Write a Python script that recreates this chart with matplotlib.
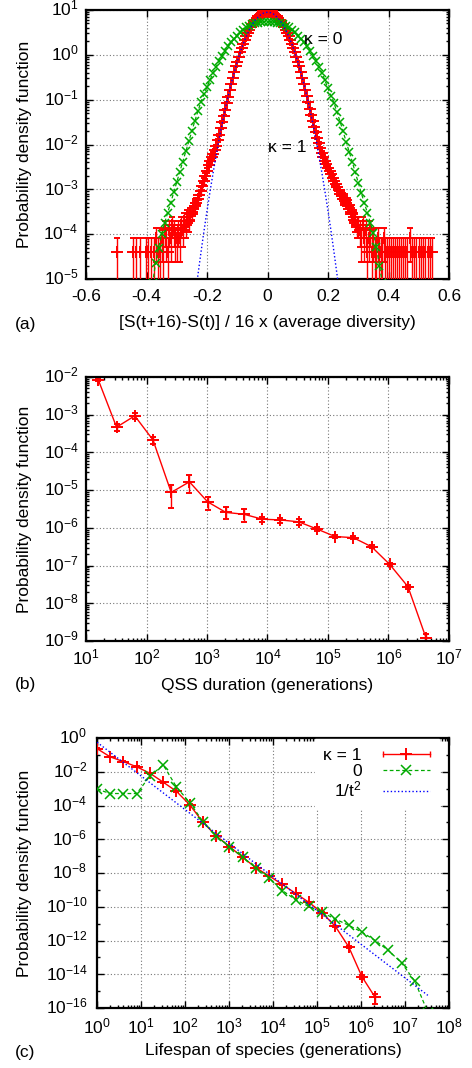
import numpy as np
import matplotlib
matplotlib.use('Agg')
import matplotlib.pyplot as plt
from matplotlib.ticker import LogLocator, FixedLocator, NullFormatter, FuncFormatter
from matplotlib.lines import Line2D
from matplotlib.legend_handler import HandlerLine2D, HandlerTuple
from matplotlib.transforms import ScaledTranslation

plt.rcParams['font.family'] = ['Liberation Sans', 'DejaVu Sans']
plt.rcParams['mathtext.default'] = 'regular'
plt.rcParams['font.size'] = 12.5

RED = '#ff0000'
GREEN = '#00aa00'
BLUE = '#0000ff'

# ---------------- Panel (a) data ----------------
# green, kappa = 0 (x, log10 pdf)
green_a_x = [-0.38, -0.37, -0.36, -0.35, -0.34, -0.33, -0.32, -0.31, -0.30, -0.29,
             -0.28, -0.27, -0.26, -0.25, -0.24, -0.23, -0.22, -0.21, -0.20, -0.19,
             -0.18, -0.17, -0.16, -0.15, -0.14, -0.13, -0.12, -0.11, -0.10, -0.09,
             -0.08, -0.07, -0.06, -0.05, -0.04, -0.03, -0.02, -0.01, 0.00, 0.01,
             0.02, 0.03, 0.04, 0.05, 0.06, 0.07, 0.08, 0.09, 0.10, 0.11,
             0.12, 0.13, 0.14, 0.15, 0.16, 0.17, 0.18, 0.19, 0.20, 0.21,
             0.22, 0.23, 0.24, 0.25, 0.26, 0.27, 0.28, 0.29, 0.30, 0.31,
             0.32, 0.33, 0.34, 0.35, 0.36, 0.37, 0.38]
green_a_logy = [-5.10, -4.65, -4.30, -4.00, -3.75, -3.52, -3.30, -3.07, -2.84, -2.61,
                -2.38, -2.15, -1.93, -1.70, -1.47, -1.26, -1.05, -0.88, -0.72, -0.56,
                -0.41, -0.27, -0.14, -0.02, 0.09, 0.19, 0.28, 0.36, 0.43, 0.50,
                0.56, 0.61, 0.65, 0.68, 0.70, 0.72, 0.73, 0.74, 0.74, 0.74,
                0.73, 0.72, 0.70, 0.68, 0.65, 0.61, 0.56, 0.50, 0.43, 0.36,
                0.28, 0.19, 0.09, -0.02, -0.14, -0.27, -0.41, -0.57, -0.75, -0.92,
                -1.08, -1.28, -1.49, -1.71, -1.94, -2.16, -2.38, -2.62, -2.85, -3.08,
                -3.30, -3.52, -3.75, -3.98, -4.28, -4.70, -5.10]

# blue dotted Gaussian fit (x, log10 pdf)
blue_a_x = [-0.24, -0.23, -0.22, -0.21, -0.20, -0.19, -0.18, -0.17, -0.16, -0.15,
            -0.14, -0.13, -0.12, -0.11, -0.10, -0.09, -0.08, -0.07, -0.06, -0.05,
            -0.04, -0.03, -0.02, -0.01, 0.00, 0.01, 0.02, 0.03, 0.04, 0.05,
            0.06, 0.07, 0.08, 0.09, 0.10, 0.11, 0.12, 0.13, 0.14, 0.15,
            0.16, 0.17, 0.18, 0.19, 0.20, 0.21, 0.22, 0.23, 0.24]
blue_a_logy = [-5.43, -4.91, -4.41, -3.93, -3.48, -3.05, -2.64, -2.25, -1.88, -1.54,
               -1.22, -0.92, -0.64, -0.39, -0.15, 0.06, 0.25, 0.41, 0.56, 0.68,
               0.78, 0.85, 0.91, 0.94, 0.95, 0.94, 0.91, 0.85, 0.78, 0.68,
               0.56, 0.41, 0.25, 0.06, -0.15, -0.39, -0.64, -0.92, -1.22, -1.54,
               -1.88, -2.25, -2.64, -3.05, -3.48, -3.93, -4.41, -4.91, -5.43]

# red, kappa = 1 : x, log10 pdf, relative error
red_a_x = [-0.498, -0.444, -0.434, -0.421, -0.402, -0.394, -0.386, -0.375, -0.368, -0.362,
           -0.356, -0.350, -0.345, -0.340, -0.335, -0.330, -0.325, -0.320, -0.315, -0.310,
           -0.305,
           -0.300, -0.295, -0.290, -0.285, -0.280, -0.275, -0.270, -0.265, -0.260, -0.255,
           -0.250, -0.245, -0.240, -0.235, -0.230, -0.225, -0.220, -0.215, -0.210, -0.205,
           -0.200, -0.195, -0.190, -0.185, -0.180, -0.175, -0.170, -0.165, -0.160, -0.155,
           -0.150, -0.145, -0.140, -0.135, -0.130, -0.125, -0.120, -0.115, -0.110, -0.105,
           -0.100, -0.095, -0.090, -0.085, -0.080, -0.075, -0.070, -0.065, -0.060, -0.055,
           -0.050, -0.045, -0.040, -0.035, -0.030, -0.025, -0.020, -0.015, -0.010, -0.005,
           0.000,
           0.005, 0.010, 0.015, 0.020, 0.025, 0.030, 0.035, 0.040, 0.045, 0.050,
           0.055, 0.060, 0.065, 0.070, 0.075, 0.080, 0.085, 0.090, 0.095, 0.100,
           0.105, 0.110, 0.115, 0.120, 0.125, 0.130, 0.135, 0.140, 0.145, 0.150,
           0.155, 0.160, 0.165, 0.170, 0.175, 0.180, 0.185, 0.190, 0.195, 0.200,
           0.205, 0.210, 0.215, 0.220, 0.225, 0.230, 0.235, 0.240, 0.245, 0.250,
           0.255, 0.260, 0.265, 0.270, 0.275, 0.280, 0.285, 0.290, 0.295, 0.300,
           0.305, 0.310, 0.315, 0.320, 0.325, 0.330, 0.335, 0.340, 0.345, 0.350,
           0.355, 0.360, 0.365, 0.370, 0.375, 0.380, 0.385, 0.390, 0.395, 0.400,
           0.408, 0.415, 0.420, 0.428, 0.435, 0.440, 0.448, 0.455, 0.462, 0.471,
           0.478, 0.485, 0.492, 0.500, 0.508, 0.515, 0.522, 0.530, 0.537, 0.545]
red_a_logy = [-4.39, -4.39, -4.39, -4.39, -4.39, -4.39, -4.39, -4.39, -4.09, -4.39,
              -4.39, -4.09, -4.39, -3.91, -4.09, -4.39, -3.91, -4.09, -3.79, -3.91,
              -4.09,
              -4.09, -3.91, -4.09, -3.79, -3.91, -3.70, -3.79, -3.62, -3.70, -3.55,
              -3.50, -3.42, -3.38, -3.30, -3.22, -3.12, -3.03, -2.93, -2.82, -2.70,
              -2.58, -2.46, -2.36, -2.28, -2.21, -2.12, -2.03, -1.91, -1.78, -1.64,
              -1.50, -1.36, -1.22, -1.07, -0.93, -0.78, -0.64, -0.51, -0.38, -0.26,
              -0.15, -0.04, 0.07, 0.16, 0.25, 0.34, 0.42, 0.49, 0.56, 0.62,
              0.68, 0.73, 0.78, 0.82, 0.86, 0.89, 0.91, 0.93, 0.94, 0.95,
              0.95,
              0.95, 0.94, 0.93, 0.91, 0.89, 0.86, 0.82, 0.78, 0.73, 0.68,
              0.62, 0.56, 0.49, 0.42, 0.34, 0.25, 0.16, 0.07, -0.04, -0.15,
              -0.26, -0.38, -0.51, -0.64, -0.78, -0.92, -1.06, -1.20, -1.34, -1.47,
              -1.60, -1.73, -1.85, -1.97, -2.08, -2.18, -2.27, -2.36, -2.44, -2.52,
              -2.58, -2.66, -2.74, -2.82, -2.88, -2.95, -3.02, -3.10, -3.15, -3.22,
              -3.20, -3.30, -3.38, -3.36, -3.50, -3.55, -3.62, -3.70, -3.79, -3.79,
              -3.91, -4.09, -3.79, -4.09, -3.91, -4.39, -4.09, -3.91, -4.39, -4.09,
              -4.39, -4.39, -4.09, -4.39, -4.39, -4.39, -4.09, -4.39, -4.39, -4.39,
              -4.39, -4.39, -4.39, -4.39, -4.39, -4.39, -4.39, -4.39, -4.39, -4.09,
              -4.39, -4.39, -4.39, -4.39, -4.39, -4.39, -4.39, -4.39, -4.39, -4.39]
red_a_relerr = [1.0, 1.0, 1.0, 1.0, 1.0, 1.0, 1.0, 1.0, 0.71, 1.0,
                1.0, 0.71, 1.0, 0.58, 0.71, 1.0, 0.58, 0.71, 0.50, 0.58,
                0.71,
                0.71, 0.58, 0.71, 0.50, 0.58, 0.45, 0.50, 0.41, 0.45, 0.38,
                0.35, 0.32, 0.31, 0.28, 0.26, 0.23, 0.21, 0.19, 0.16, 0.14,
                0.12, 0.11, 0.10, 0.09, 0.08, 0.07, 0.07, 0.06, 0.05, 0.04,
                0.04, 0.03, 0.03, 0.02, 0.02, 0.0, 0.0, 0.0, 0.0, 0.0,
                0.0, 0.0, 0.0, 0.0, 0.0, 0.0, 0.0, 0.0, 0.0, 0.0,
                0.0, 0.0, 0.0, 0.0, 0.0, 0.0, 0.0, 0.0, 0.0, 0.0,
                0.0,
                0.0, 0.0, 0.0, 0.0, 0.0, 0.0, 0.0, 0.0, 0.0, 0.0,
                0.0, 0.0, 0.0, 0.0, 0.0, 0.0, 0.0, 0.0, 0.0, 0.0,
                0.0, 0.0, 0.0, 0.0, 0.0, 0.02, 0.02, 0.03, 0.03, 0.04,
                0.04, 0.05, 0.05, 0.06, 0.07, 0.08, 0.09, 0.10, 0.11, 0.12,
                0.12, 0.14, 0.15, 0.16, 0.18, 0.19, 0.21, 0.23, 0.24, 0.26,
                0.26, 0.29, 0.31, 0.31, 0.36, 0.38, 0.41, 0.45, 0.50, 0.50,
                0.58, 0.71, 0.50, 0.71, 0.58, 1.0, 0.71, 0.58, 1.0, 0.71,
                1.0, 1.0, 0.71, 1.0, 1.0, 1.0, 0.71, 1.0, 1.0, 1.0,
                1.0, 1.0, 1.0, 1.0, 1.0, 1.0, 1.0, 1.0, 1.0, 0.71,
                1.0, 1.0, 1.0, 1.0, 1.0, 1.0, 1.0, 1.0, 1.0, 1.0]

a_xticks = [-0.6, -0.4, -0.2, 0.0, 0.2, 0.4, 0.6]
a_xticklabels = ['-0.6', '-0.4', '-0.2', '0', '0.2', '0.4', '0.6']

# ---------------- Panel (b) data ----------------
qss_x = [16, 32, 64, 128, 256, 512, 1024, 2048, 4096, 8192, 16384, 32768,
         65536, 131072, 262144, 524288, 1048576, 2097152, 4194304]
qss_logy = [-2.08, -3.33, -3.03, -3.67, -5.06, -4.78, -5.31, -5.59, -5.64, -5.77,
            -5.79, -5.84, -6.03, -6.23, -6.26, -6.50, -6.97, -7.56, -8.93]
qss_relerr = [0.05, 0.20, 0.18, 0.20, 0.62, 0.50, 0.38, 0.35, 0.38, 0.15,
              0.15, 0.17, 0.12, 0.10, 0.10, 0.10, 0.10, 0.12, 0.30]

# ---------------- Panel (c) data ----------------
life_red_x = [1, 2, 4, 8, 16, 32, 64, 128, 256, 512, 1024, 2048, 4096, 8192,
              16384, 32768, 65536, 131072, 262144, 524288, 1048576, 2097152]
life_red_logy = [-0.63, -1.12, -1.40, -1.71, -2.09, -2.62, -3.16, -3.96, -4.99, -5.80,
                 -6.43, -7.07, -7.69, -8.18, -8.68, -9.21, -9.74, -10.36, -11.17, -12.37,
                 -14.14, -15.37]
life_red_relerr = [0.05, 0.05, 0.05, 0.05, 0.05, 0.05, 0.05, 0.05, 0.05, 0.05,
                   0.05, 0.05, 0.05, 0.05, 0.05, 0.05, 0.06, 0.08, 0.10, 0.15,
                   0.30, 0.60]
life_green_x = [1, 2, 4, 8, 16, 32, 64, 128, 256, 512, 1024, 2048, 4096, 8192,
                16384, 32768, 65536, 131072, 262144, 524288, 1048576, 2097152,
                4194304, 8388608, 16777216, 33554432]
life_green_logy = [-3.03, -3.29, -3.29, -3.29, -2.25, -1.60, -2.90, -3.83, -4.95, -5.80,
                   -6.45, -7.07, -7.68, -8.30, -9.04, -9.59, -9.98, -10.34, -10.73, -11.10,
                   -11.50, -12.00, -12.59, -13.33, -14.42, -16.30]
fit_x = [1, 3.3e7]
fit_logy = [-0.25, -15.25]

c_yticks = [1e0, 1e-2, 1e-4, 1e-6, 1e-8, 1e-10, 1e-12, 1e-14, 1e-16]
c_yminor = [1e-1, 1e-3, 1e-5, 1e-7, 1e-9, 1e-11, 1e-13, 1e-15]

# ---------------- figure ----------------
fig = plt.figure(figsize=(4.72, 10.68), dpi=100)
W, H = 472.0, 1068.0


def axes_px(l, t, r, b):
    return fig.add_axes([l / W, 1 - b / H, (r - l) / W, (b - t) / H])


def pow_fmt(v, pos):
    e = int(round(np.log10(v)))
    return '$10^{%d}$' % e


def style(ax, ypad=5.5, xpad=5):
    for s in ax.spines.values():
        s.set_linewidth(1.6)
    ax.tick_params(which='both', direction='in', top=True, right=True, width=1.0)
    ax.tick_params(which='major', length=5)
    ax.tick_params(which='minor', length=2.5)
    ax.tick_params(axis='y', which='major', pad=ypad, labelsize=12.5)
    ax.tick_params(axis='x', which='major', pad=xpad, labelsize=12.5)
    ax.set_axisbelow(True)
    ax.grid(True, which='major', color='#777777', ls=(0, (1, 2)), lw=0.8)


ERR_KW = dict(ms=8, mew=1.4, elinewidth=1.0, capsize=2.4, capthick=1.0)

# ---- (a)
axA = axes_px(86, 10, 449, 279)
axA.set_yscale('log')
axA.set_xlim(-0.6, 0.6)
axA.set_ylim(1e-5, 10)

ya = 10 ** np.array(red_a_logy)
ea = np.array(red_a_relerr) * ya
axA.errorbar(red_a_x, ya, yerr=[np.minimum(ea, ya * 0.999), ea], fmt='+', color=RED,
             zorder=3, **ERR_KW)
axA.plot(green_a_x, 10 ** np.array(green_a_logy), color=GREEN, ls=(0, (3, 2)), lw=0.9,
         marker='x', ms=5.5, mew=1.1, zorder=4)
axA.plot(blue_a_x, 10 ** np.array(blue_a_logy), color=BLUE, ls=(0, (1, 1.6)), lw=1.0, zorder=5)

axA.xaxis.set_major_locator(FixedLocator(a_xticks))
axA.set_xticklabels(a_xticklabels)
axA.yaxis.set_major_locator(LogLocator(base=10, numticks=20))
axA.yaxis.set_minor_locator(LogLocator(base=10, subs=np.arange(2, 10), numticks=20))
axA.yaxis.set_major_formatter(FuncFormatter(pow_fmt))
axA.yaxis.set_minor_formatter(NullFormatter())
style(axA, ypad=5.5, xpad=7)
axA.text(0.122, 10 ** 0.353, '\u03ba = 0', va='center', ha='left', fontsize=12.5, zorder=6)
axA.text(0.003, 10 ** -2.06, '\u03ba = 1', va='center', ha='left', fontsize=12.5, zorder=6)
axA.set_xlabel('[S(t+16)-S(t)] / 16 x (average diversity)', fontsize=12.5)
axA.xaxis.set_label_coords(0.5, -0.135)
axA.set_ylabel('Probability density function', fontsize=12.5)
axA.yaxis.set_label_coords(-0.150, 0.5)

# ---- (b)
axB = axes_px(86, 377, 449, 641)
axB.set_xscale('log')
axB.set_yscale('log')
axB.set_xlim(10, 1e7)
axB.set_ylim(1e-9, 1e-2)
yb = 10 ** np.array(qss_logy)
eb = np.array(qss_relerr) * yb
axB.errorbar(qss_x, yb, yerr=[np.minimum(eb, yb * 0.999), eb], fmt='-+', color=RED,
             lw=1.0, **ERR_KW)
for axis in (axB.xaxis, axB.yaxis):
    axis.set_major_locator(LogLocator(base=10, numticks=20))
    axis.set_minor_locator(LogLocator(base=10, subs=np.arange(2, 10), numticks=20))
    axis.set_major_formatter(FuncFormatter(pow_fmt))
    axis.set_minor_formatter(NullFormatter())
style(axB, ypad=5, xpad=4.5)
axB.set_xlabel('QSS duration (generations)', fontsize=12.5)
axB.xaxis.set_label_coords(0.5, -0.14)
axB.set_ylabel('Probability density function', fontsize=12.5)
axB.yaxis.set_label_coords(-0.150, 0.5)

# ---- (c)
axC = axes_px(97, 738, 449, 1008)
axC.set_xscale('log')
axC.set_yscale('log')
axC.set_xlim(1, 1e8)
axC.set_ylim(1e-16, 1)
yc = 10 ** np.array(life_red_logy)
ec = np.array(life_red_relerr) * yc
axC.errorbar(life_red_x, yc, yerr=[np.minimum(ec, yc * 0.999), ec], fmt='-+', color=RED,
             lw=1.0, zorder=3, **ERR_KW)
axC.plot(life_green_x, 10 ** np.array(life_green_logy), color=GREEN, ls=(0, (3, 2)),
         lw=0.9, marker='x', ms=6.5, mew=1.1, zorder=4)
axC.plot(fit_x, 10 ** np.array(fit_logy), color=BLUE, ls=(0, (1, 1.6)), lw=1.0, zorder=5)
axC.xaxis.set_major_locator(LogLocator(base=10, numticks=20))
axC.xaxis.set_minor_locator(LogLocator(base=10, subs=np.arange(2, 10), numticks=20))
axC.xaxis.set_major_formatter(FuncFormatter(pow_fmt))
axC.xaxis.set_minor_formatter(NullFormatter())
axC.yaxis.set_major_locator(FixedLocator(c_yticks))
axC.yaxis.set_minor_locator(FixedLocator(c_yminor))
axC.yaxis.set_major_formatter(FuncFormatter(pow_fmt))
axC.yaxis.set_minor_formatter(NullFormatter())
style(axC, ypad=7, xpad=6)
axC.set_xlabel('Lifespan of species (generations)', fontsize=12.5)
axC.xaxis.set_label_coords(0.5, -0.13)
axC.set_ylabel('Probability density function', fontsize=12.5)
axC.yaxis.set_label_coords(-0.185, 0.5)

# legend (gnuplot style: label then sample)
h_red_line = Line2D([], [], color=RED, lw=1.0, marker='+', ms=8, mew=1.4)
h_red_caps = Line2D([], [], color=RED, lw=0, ls='none', marker='|', ms=5, mew=1.0)
h_green = Line2D([], [], color=GREEN, lw=0.9, ls=(0, (3, 2)), marker='x', ms=6.5, mew=1.1)
h_blue = Line2D([], [], color=BLUE, lw=1.0, ls=(0, (1, 1.6)))
leg = axC.legend([(h_red_line, h_red_caps), h_green, h_blue],
                 ['\u03ba = 1', '0', '1/t$^2$'],
                 handler_map={h_red_caps: HandlerLine2D(numpoints=2, marker_pad=0),
                              h_red_line: HandlerLine2D(numpoints=1),
                              h_green: HandlerLine2D(numpoints=1),
                              h_blue: HandlerLine2D(numpoints=1),
                              tuple: HandlerTuple(ndivide=1)},
                 loc='upper right', bbox_to_anchor=(439 / W, 1 - 739 / H),
                 bbox_transform=fig.transFigure, borderaxespad=0,
                 markerfirst=False, frameon=True, fancybox=False, framealpha=1,
                 facecolor='white', edgecolor='white', borderpad=0.5,
                 handlelength=2.75, handletextpad=1.2, labelspacing=0.05,
                 fontsize=12.5)
leg.set_zorder(10)

fig.text(15 / W, 1 - 325 / H, '(a)', va='center', ha='left', fontsize=12.5)
fig.text(15 / W, 1 - 685 / H, '(b)', va='center', ha='left', fontsize=12.5)
fig.text(15 / W, 1 - 1053 / H, '(c)', va='center', ha='left', fontsize=12.5)

# raise the y tick labels slightly so the base "10" sits on the tick (gnuplot style)
fig.canvas.draw()
for ax in (axA, axB, axC):
    for lab in ax.get_yticklabels():
        lab.set_transform(lab.get_transform() + ScaledTranslation(0, 2.0 / 72, fig.dpi_scale_trans))

fig.savefig('out.png', dpi=100)
